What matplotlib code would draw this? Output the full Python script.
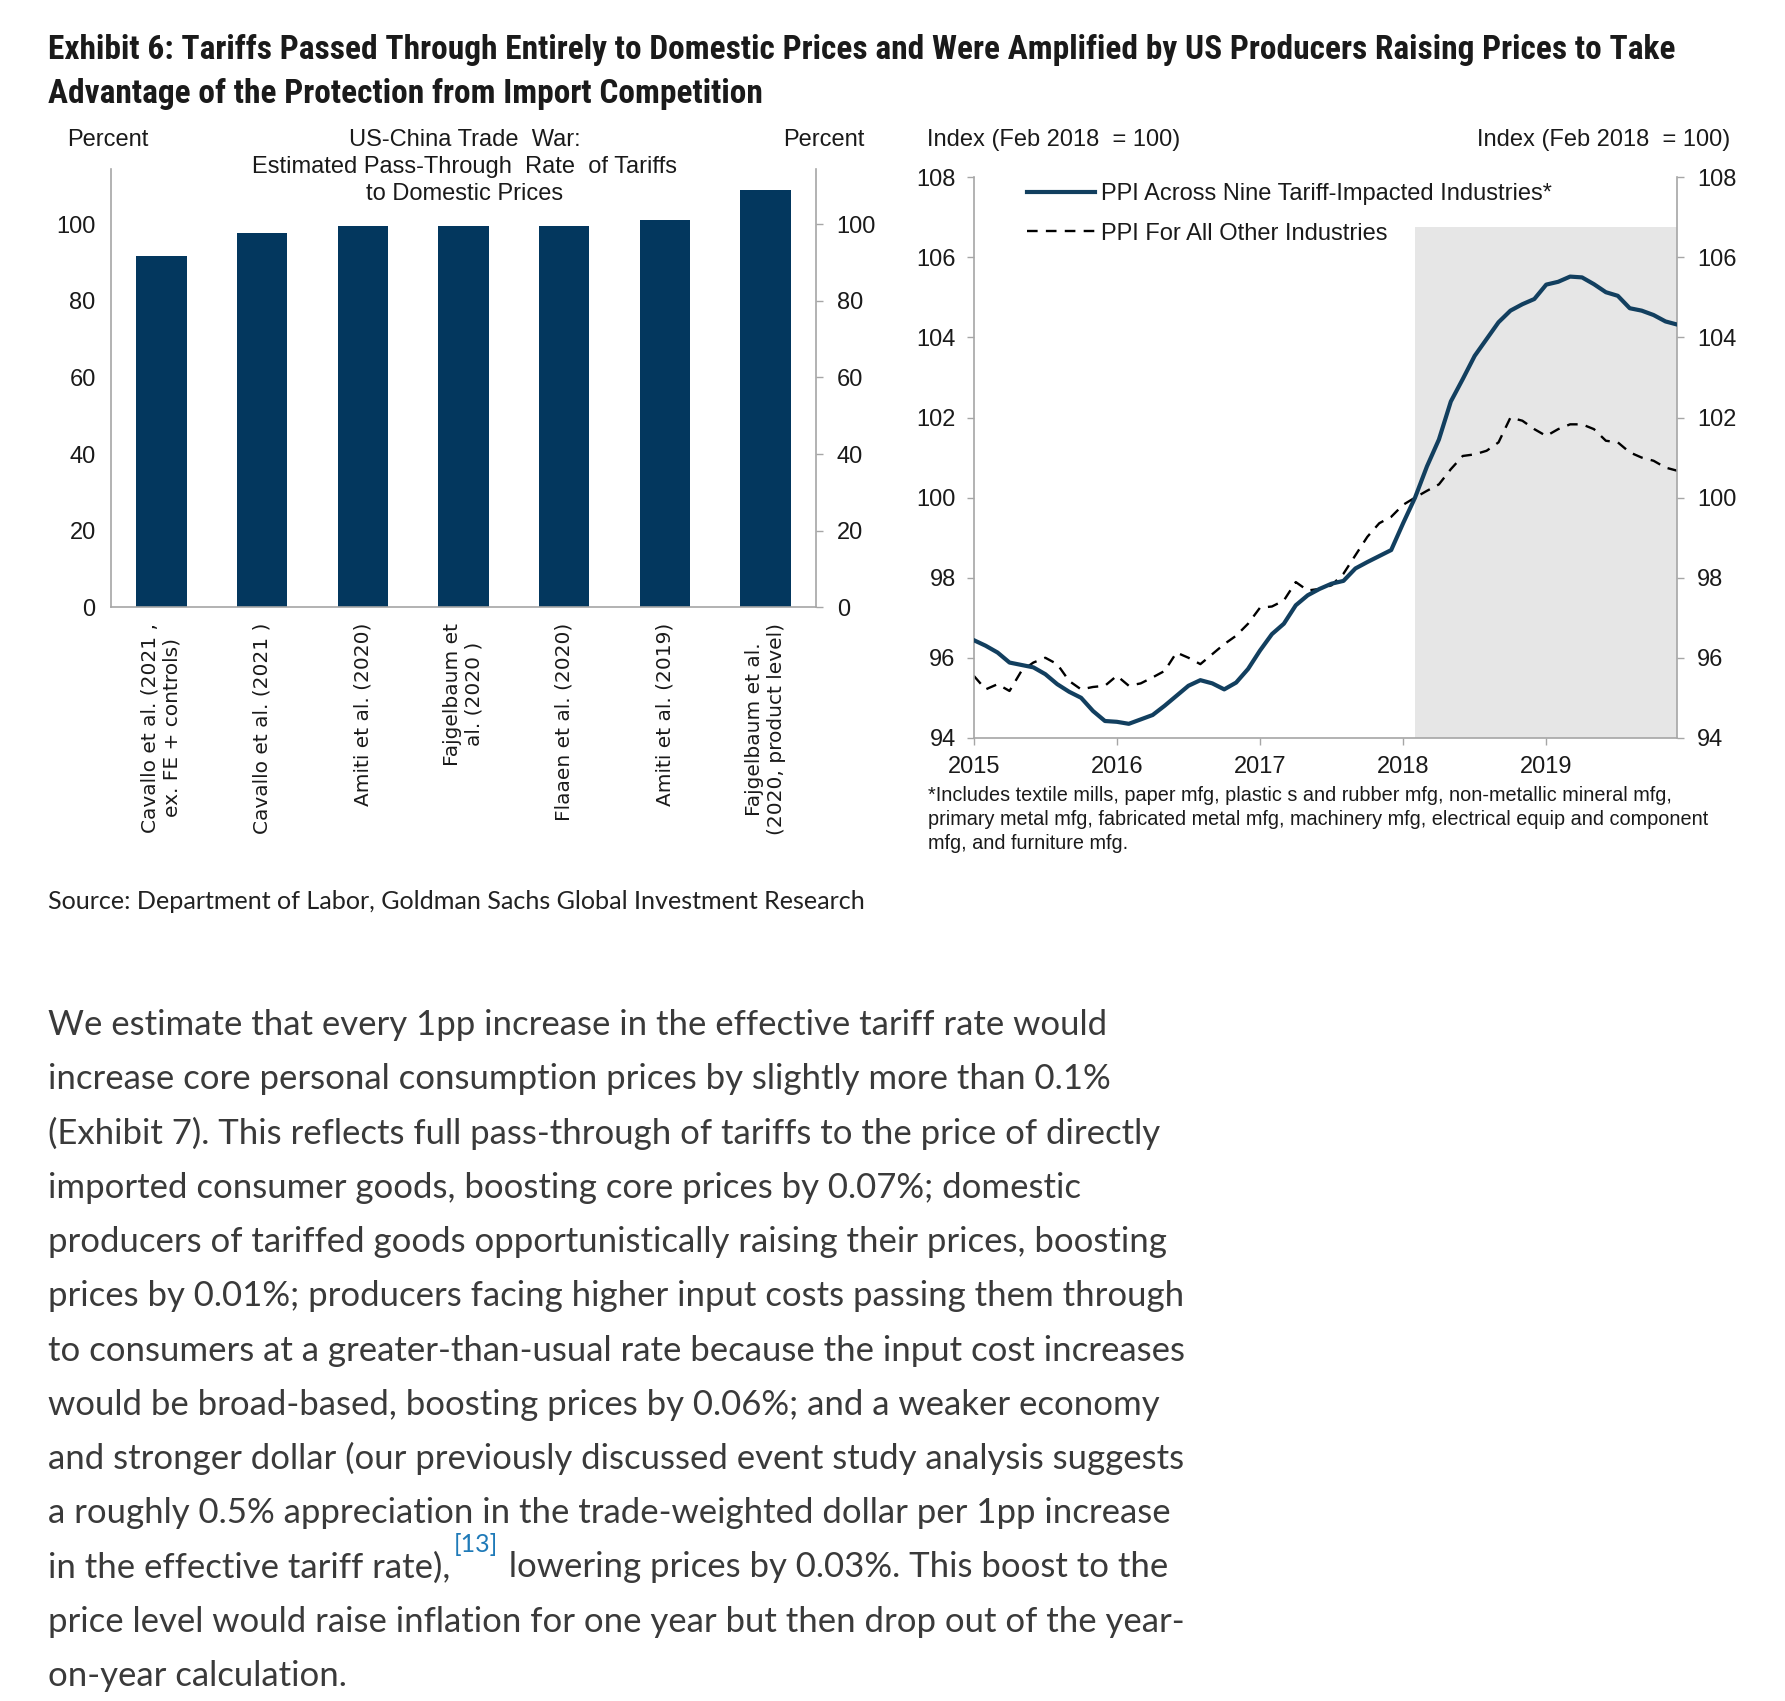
import matplotlib
matplotlib.use('Agg')
import matplotlib.pyplot as plt
from matplotlib import font_manager as fm
from matplotlib.lines import Line2D
import numpy as np

# ---- data: left panel (pass-through estimates, %)
studies = ['Cavallo et al. (2021 ,\nex. FE + controls)', 'Cavallo et al. (2021 )',
           'Amiti et al. (2020)', 'Fajgelbaum et\nal. (2020 )', 'Flaaen et al. (2020)',
           'Amiti et al. (2019)', 'Fajgelbaum et al.\n(2020, product level)']
pass_through = [91.8, 97.6, 99.6, 99.6, 99.6, 101.0, 109.0]
bar_ticks = [0, 20, 40, 60, 80, 100]

# ---- data: right panel (monthly PPI index, Jan 2015 - Dec 2019, Feb 2018 = 100)
first_year = 2015
tariff_ppi = [96.44, 96.30, 96.13, 95.88, 95.82, 95.76, 95.59, 95.34, 95.15, 95.00, 94.67, 94.42,
              94.40, 94.35, 94.46, 94.57, 94.80, 95.05, 95.30, 95.44, 95.36, 95.21, 95.38, 95.72,
              96.18, 96.59, 96.85, 97.31, 97.56, 97.72, 97.85, 97.92, 98.23, 98.39, 98.54, 98.69,
              99.36, 100.00, 100.78, 101.45, 102.40, 102.96, 103.54, 103.96, 104.38, 104.67, 104.83, 104.96,
              105.32, 105.39, 105.52, 105.50, 105.33, 105.13, 105.04, 104.73, 104.67, 104.56, 104.40, 104.32]
other_ppi = [95.55, 95.21, 95.34, 95.17, 95.67, 95.88, 96.00, 95.84, 95.42, 95.21, 95.27, 95.30,
             95.55, 95.30, 95.36, 95.51, 95.67, 96.13, 96.00, 95.84, 96.09, 96.34, 96.55, 96.85,
             97.25, 97.28, 97.43, 97.89, 97.68, 97.72, 97.81, 98.10, 98.56, 99.02, 99.36, 99.52,
             99.82, 100.00, 100.17, 100.33, 100.71, 101.04, 101.08, 101.17, 101.38, 102.00, 101.92, 101.71,
             101.54, 101.71, 101.83, 101.83, 101.71, 101.42, 101.38, 101.13, 101.00, 100.92, 100.75, 100.67]
ppi_ticks = [94, 96, 98, 100, 102, 104, 106, 108]
year_ticks = [2015, 2016, 2017, 2018, 2019]
shade_start = 2018 + 1 / 12      # Feb 2018
shade_top = 106.75

series_labels = ['PPI Across Nine Tariff-Impacted Industries*', 'PPI For All Other Industries']

title_lines = ['Exhibit 6: Tariffs Passed Through Entirely to Domestic Prices and Were Amplified by US Producers Raising Prices to Take',
               'Advantage of the Protection from Import Competition']
source = 'Source: Department of Labor, Goldman Sachs Global Investment Research'
footnote = ['*Includes textile mills, paper mfg, plastic s and rubber mfg, non-metallic mineral mfg,',
            'primary metal mfg, fabricated metal mfg, machinery mfg, electrical equip and component',
            'mfg, and furniture mfg.']
body = ['We estimate that every 1pp increase in the effective tariff rate would',
        'increase core personal consumption prices by slightly more than 0.1%',
        '(Exhibit 7). This reflects full pass-through of tariffs to the price of directly',
        'imported consumer goods, boosting core prices by 0.07%; domestic',
        'producers of tariffed goods opportunistically raising their prices, boosting',
        'prices by 0.01%; producers facing higher input costs passing them through',
        'to consumers at a greater-than-usual rate because the input cost increases',
        'would be broad-based, boosting prices by 0.06%; and a weaker economy',
        'and stronger dollar (our previously discussed event study analysis suggests',
        'a roughly 0.5% appreciation in the trade-weighted dollar per 1pp increase',
        None,
        'price level would raise inflation for one year but then drop out of the year-',
        'on-year calculation.']
sup_before = 'in the effective tariff rate),'
sup_text = '[13]'
sup_after = ' lowering prices by 0.03%. This boost to the'

NAVY = '#03375E'
LINE = '#123F5F'
GREY = '#A6A6A6'
INK = '#1a1a1a'
CHART_FONT = ['Liberation Sans', 'DejaVu Sans']
BODY_FONT = ['Lato', 'DejaVu Sans']


# look for a condensed bold face for the headline
def condensed_bold():
    prefs = ['liberationsansnarrow', 'robotocondensed', 'opensans_condensed', 'opensanscondensed',
             'opensans-condensed', 'notosans-condensed', 'notosanscondensed', 'dejavusanscondensed',
             'condensed', 'narrow']
    found = []
    for f in fm.fontManager.ttflist:
        key = (f.name + ' ' + f.fname.split('/')[-1]).lower().replace(' ', '')
        if 'mono' in key or 'serif' in key or 'italic' in key or 'oblique' in key:
            continue
        w = f.weight if isinstance(f.weight, int) else (700 if 'bold' in str(f.weight) else 400)
        if w < 600 or w > 750:
            continue
        cond = ('condensed' in key or 'narrow' in key or 'condensed' in str(f.stretch))
        if not cond or 'extra' in key or 'semi' in key:
            continue
        rank = next(i for i, p in enumerate(prefs) if p in key or p == prefs[-1] or p == 'condensed')
        found.append((rank, f.fname))
    if found:
        found.sort()
        return fm.FontProperties(fname=found[0][1])
    return fm.FontProperties(family=['Roboto', 'DejaVu Sans'], weight='bold')


TITLE_FP = condensed_bold()


def fx(x):
    return x / 1560


def fy(y):
    return 1 - y / 1487


fig = plt.figure(figsize=(17.85, 17.01), dpi=100)
fig.patch.set_facecolor('white')

# ---------------- left panel: bars
ax1 = fig.add_axes([fx(97), fy(531), fx(713) - fx(97), fy(148) - fy(531)])
xpos = np.arange(len(studies))
ax1.bar(xpos, pass_through, width=0.5, color=NAVY, zorder=2)
ax1.set_xlim(-0.5, len(studies) - 0.5)
ax1.set_ylim(0, 114.3)
ax1.set_yticks(bar_ticks)
ax1.set_xticks(xpos)
ax1.set_xticklabels(studies, rotation=90, ha='center', va='top', multialignment='center',
                    fontsize=14.5, family=['DejaVu Sans'], color=INK)
ax1.tick_params(axis='x', length=0, pad=11)
ax1.tick_params(axis='y', length=0, pad=11, labelsize=17, colors=INK)
for lab in ax1.get_yticklabels():
    lab.set_family(CHART_FONT)
ax1.spines['top'].set_visible(False)
for s in ['left', 'right', 'bottom']:
    ax1.spines[s].set_color(GREY)
    ax1.spines[s].set_linewidth(1.2)

ax1r = ax1.twinx()
ax1r.set_ylim(ax1.get_ylim())
ax1r.set_yticks(bar_ticks)
ax1r.tick_params(axis='y', direction='out', length=5, width=1, color=GREY, pad=10,
                 labelsize=17, labelcolor=INK)
for lab in ax1r.get_yticklabels():
    lab.set_family(CHART_FONT)
for s in ax1r.spines.values():
    s.set_visible(False)

fig.text(fx(94), fy(122), 'Percent', ha='center', va='center', fontsize=17, family=CHART_FONT, color=INK)
fig.text(fx(720), fy(122), 'Percent', ha='center', va='center', fontsize=17, family=CHART_FONT, color=INK)
for i, t in enumerate(['US-China Trade  War:', 'Estimated Pass-Through  Rate  of Tariffs', 'to Domestic Prices']):
    fig.text(fx(406), fy(122 + 24 * i), t, ha='center', va='center', fontsize=17,
             family=CHART_FONT, color=INK)

# ---------------- right panel: lines
ax2 = fig.add_axes([fx(851), fy(645), fx(1466) - fx(851), fy(155) - fy(645)])
t = first_year + np.arange(len(tariff_ppi)) / 12
ax2.set_xlim(t[0], t[-1])
ax2.set_ylim(ppi_ticks[0], ppi_ticks[-1])
ax2.axvspan(shade_start, t[-1], ymin=0, ymax=(shade_top - ppi_ticks[0]) / (ppi_ticks[-1] - ppi_ticks[0]),
            color='#E6E6E6', lw=0, zorder=0)
ax2.plot(t, other_ppi, color='black', lw=1.7, ls=(0, (4.5, 3.5)), zorder=2)
ax2.plot(t, tariff_ppi, color=LINE, lw=3.0, zorder=3)
ax2.set_yticks(ppi_ticks)
ax2.set_xticks(year_ticks)
ax2.set_xticklabels([str(y) for y in year_ticks])
ax2.tick_params(axis='both', direction='out', length=5, width=1, color=GREY,
                labelsize=17, labelcolor=INK)
ax2.tick_params(axis='y', pad=8)
ax2.tick_params(axis='x', pad=8)
for lab in ax2.get_xticklabels() + ax2.get_yticklabels():
    lab.set_family(CHART_FONT)
ax2.spines['top'].set_visible(False)
for s in ['left', 'right', 'bottom']:
    ax2.spines[s].set_color(GREY)
    ax2.spines[s].set_linewidth(1.2)

ax2r = ax2.twinx()
ax2r.set_ylim(ax2.get_ylim())
ax2r.set_yticks(ppi_ticks)
ax2r.tick_params(axis='y', direction='out', length=5, width=1, color=GREY, pad=9,
                 labelsize=17, labelcolor=INK)
for lab in ax2r.get_yticklabels():
    lab.set_family(CHART_FONT)
for s in ax2r.spines.values():
    s.set_visible(False)

handles = [Line2D([], [], color=LINE, lw=3.0),
           Line2D([], [], color='black', lw=1.7, ls=(0, (4.5, 3.5)))]
leg = ax2.legend(handles, series_labels, loc='upper left', bbox_to_anchor=(0.075, 0.99),
                 frameon=False, borderpad=0, borderaxespad=0, handlelength=2.9,
                 handletextpad=0.25, labelspacing=0.75, prop={'family': CHART_FONT, 'size': 17})
for txt in leg.get_texts():
    txt.set_color(INK)

fig.text(fx(810), fy(122), 'Index (Feb 2018  = 100)', ha='left', va='center', fontsize=17,
         family=CHART_FONT, color=INK)
fig.text(fx(1512), fy(122), 'Index (Feb 2018  = 100)', ha='right', va='center', fontsize=17,
         family=CHART_FONT, color=INK)

# ---------------- title, footnote, source, body
fig.canvas.draw()
r = fig.canvas.get_renderer()


def fit(txt, target_px):
    w = txt.get_window_extent(r).width
    txt.set_fontsize(txt.get_fontsize() * target_px / w)
    return txt.get_fontsize()


S = 1785 / 1560

t1 = fig.text(fx(42), fy(52), title_lines[0], ha='left', va='baseline', fontproperties=TITLE_FP,
              color=INK)
t1.set_fontsize(22)
size = fit(t1, 1416 * S)
t2 = fig.text(fx(42), fy(90), title_lines[1], ha='left', va='baseline', fontproperties=TITLE_FP,
              color=INK)
t2.set_fontsize(size)

fn0 = fig.text(fx(811), fy(700), footnote[0], ha='left', va='baseline', fontsize=12,
               family=CHART_FONT, color=INK)
fsize = fit(fn0, 647 * S)
for i in (1, 2):
    fig.text(fx(811), fy(700 + 21 * i), footnote[i], ha='left', va='baseline', fontsize=fsize,
             family=CHART_FONT, color=INK)

src = fig.text(fx(42), fy(795), source, ha='left', va='baseline', fontsize=17,
               family=BODY_FONT, color='#222222')
fit(src, 715 * S)

b0 = fig.text(fx(42), fy(905), body[0], ha='left', va='baseline', fontsize=21,
              family=BODY_FONT, color='#3a3a3a')
bsize = fit(b0, 926 * S)
for i, line in enumerate(body):
    if i == 0:
        continue
    yb = fy(905 + 47.4 * i)
    if line is None:
        a = fig.text(fx(42), yb, sup_before, ha='left', va='baseline', fontsize=bsize,
                     family=BODY_FONT, color='#3a3a3a')
        fig.canvas.draw()
        ea = a.get_window_extent(r)
        sx = (ea.x1 + 3) / fig.bbox.width
        sup = fig.text(sx, yb + 22 / 1487, sup_text, ha='left', va='baseline', fontsize=bsize * 0.72,
                       family=BODY_FONT, color='#1f7ab8')
        fig.canvas.draw()
        es = sup.get_window_extent(r)
        fig.text((es.x1 + 2) / fig.bbox.width, yb, sup_after, ha='left', va='baseline',
                 fontsize=bsize, family=BODY_FONT, color='#3a3a3a')
    else:
        fig.text(fx(42), yb, line, ha='left', va='baseline', fontsize=bsize,
                 family=BODY_FONT, color='#3a3a3a')

fig.savefig('out.png', dpi=100, facecolor='white')
